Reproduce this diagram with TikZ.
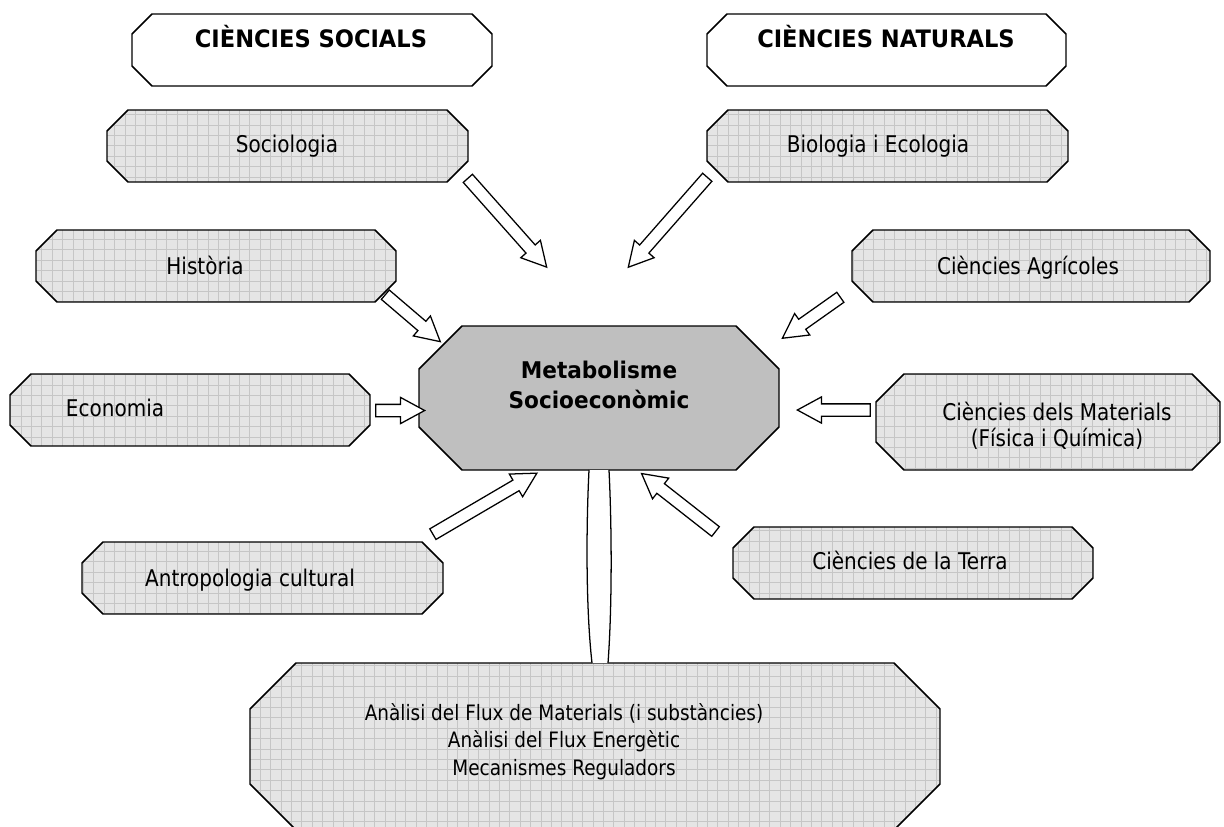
\documentclass[tikz,border=0pt]{standalone}
\usepackage{fontspec}
\setmainfont{DejaVu Sans}[FakeStretch=0.87, BoldFeatures={FakeStretch=0.94}]
\usetikzlibrary{calc,shapes.arrows}
\newdimen\pxu \pxu=0.75pt
\newcommand\octbox[6]{%
  \path[#1] (#2+#6,#3) -- (#4-#6,#3) -- (#4,#3+#6) -- (#4,#5-#6) -- (#4-#6,#5)
    -- (#2+#6,#5) -- (#2,#5-#6) -- (#2,#3+#6) -- cycle;}
\newcommand\barrow[3]{%
  \path let \p1=(#2), \p2=(#3), \n1={atan2(\y2-\y1,\x2-\x1)},
    \n2={veclen(\x2-\x1,\y2-\y1)} in
    node[blockarrow, minimum height=\n2, rotate=\n1] (#1) at ($(\p1)!0.5!(\p2)$) {};}
\tikzset{
  gridbox/.style={draw=black, line width=1.1pt, fill=gray!20,
    path picture={\draw[gray!45, line width=0.4pt]
      (path picture bounding box.south west) grid[step=7.8pt]
      (path picture bounding box.north east);}},
  headbox/.style={draw=black, line width=1.1pt, fill=white},
  centbox/.style={draw=black, line width=1.1pt, fill=gray!50},
  lbl/.style={font=\fontsize{17.25}{20.6}\selectfont, anchor=base, inner sep=0pt, align=center},
  flbl/.style={lbl, font=\fontsize{15.9}{20.6}\selectfont},
  blbl/.style={lbl, font=\fontsize{17.25}{20.6}\selectfont\bfseries},
  hlbl/.style={lbl, font=\fontsize{18}{20.6}\selectfont\bfseries},
  blockarrow/.style={shape=single arrow, draw=black, fill=white, line width=0.95pt,
    inner xsep=0pt, inner ysep=5.5\pxu, single arrow head extend=7\pxu,
    single arrow tip angle=57, single arrow head indent=0pt}
}
\begin{document}
\begin{tikzpicture}[x=0.75pt, y=-0.75pt]
\useasboundingbox (0,0) rectangle (1224,826);
% header boxes
\octbox{headbox}{132}{14}{492}{86}{20}
\node[hlbl] (hsoc) at (311,47) {CIÈNCIES SOCIALS};
\octbox{headbox}{707}{14}{1066}{86}{20}
\node[hlbl] (hnat) at (886,47) {CIÈNCIES NATURALS};
% discipline boxes
\octbox{gridbox}{107}{110}{468}{182}{21}
\node[lbl] (soc) at (287,152) {Sociologia};
\octbox{gridbox}{707}{110}{1068}{182}{21}
\node[lbl] (bio) at (878,152) {Biologia i Ecologia};
\octbox{gridbox}{36}{230}{396}{302}{21}
\node[lbl] (his) at (205,274) {Història};
\octbox{gridbox}{852}{230}{1210}{302}{21}
\node[lbl] (agr) at (1028,274) {Ciències Agrícoles};
\octbox{gridbox}{10}{374}{370}{446}{21}
\node[lbl] (eco) at (115,416) {Economia};
\octbox{gridbox}{876}{374}{1220}{470}{28}
\node[lbl] (mat) at (1057,446) {Ciències dels Materials\\[-1.1pt](Física i Química)};
\octbox{gridbox}{82}{542}{443}{614}{21}
\node[lbl] (ant) at (250,586) {Antropologia cultural};
\octbox{gridbox}{733}{527}{1093}{599}{21}
\node[lbl] (ter) at (910,569) {Ciències de la Terra};
\octbox{gridbox}{250}{663}{940}{830}{46}
\node[flbl] (flux) at (564,775) {Anàlisi del Flux de Materials (i substàncies)\\Anàlisi del Flux Energètic\\Mecanismes Reguladors};
% central box
\octbox{centbox}{419}{326}{779}{470}{43}
\node[blbl] (met) at (599,408) {Metabolisme\\[1.9pt]Socioeconòmic};
% arrow end points
\coordinate (socT) at (464,174); \coordinate (socH) at (543,263);
\coordinate (bioT) at (711,173); \coordinate (bioH) at (632,263);
\coordinate (hisT) at (381,291); \coordinate (hisH) at (436,338);
\coordinate (agrT) at (845,294); \coordinate (agrH) at (787,335);
\coordinate (ecoT) at (370,410.5); \coordinate (ecoH) at (419,410.5);
\coordinate (matT) at (876,410); \coordinate (matH) at (803,410);
\coordinate (antT) at (428,537); \coordinate (antH) at (532,476);
\coordinate (terT) at (720,535); \coordinate (terH) at (646,477);
\barrow{a1}{socT}{socH}
\barrow{a2}{bioT}{bioH}
\barrow{a3}{hisT}{hisH}
\barrow{a4}{agrT}{agrH}
\barrow{a5}{ecoT}{ecoH}
\barrow{a6}{matT}{matH}
\barrow{a7}{antT}{antH}
\barrow{a8}{terT}{terH}
% lens connector
\coordinate (lTL) at (589,470); \coordinate (lBL) at (592,663);
\coordinate (lTR) at (609,470); \coordinate (lBR) at (608,663);
\fill[white] (lTL) .. controls (586,530) and (586,610) .. (lBL) -- (lBR)
  .. controls (612,610) and (612,530) .. (lTR) -- cycle;
\draw[line width=0.95pt] (lTL) .. controls (586,530) and (586,610) .. (lBL);
\draw[line width=0.95pt] (lTR) .. controls (612,530) and (612,610) .. (lBR);
\end{tikzpicture}
\end{document}
